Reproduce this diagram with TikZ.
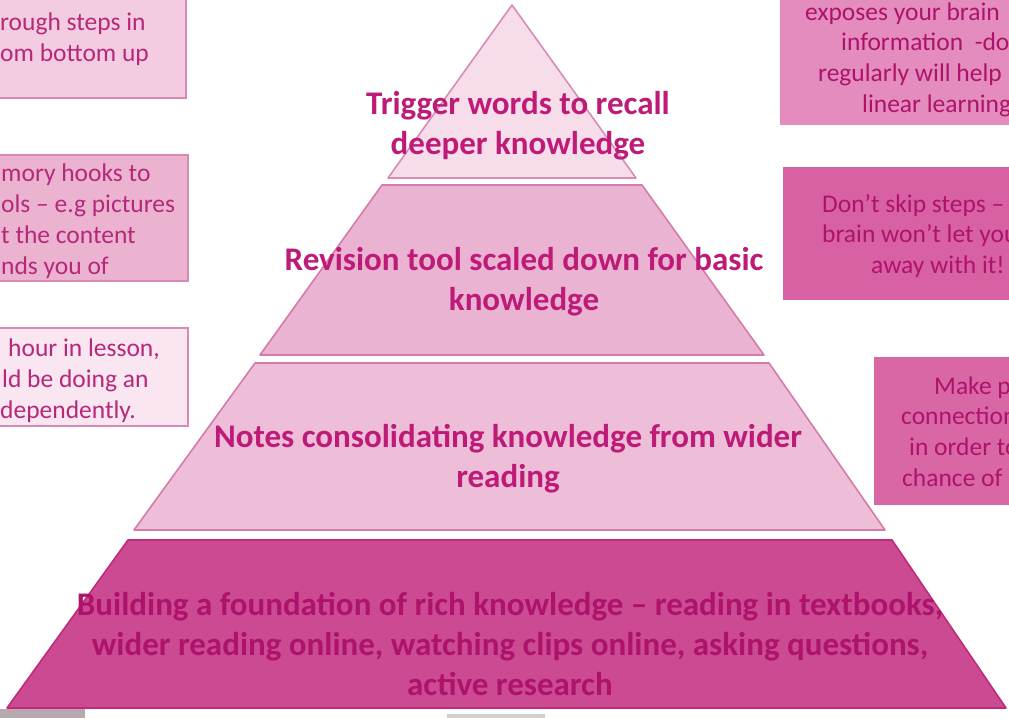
\documentclass[tikz,border=0pt]{standalone}
\usepackage{fontspec}
\setmainfont{Carlito}
\definecolor{tritop}{HTML}{F7DCEA}
\definecolor{triedge}{HTML}{D98CB8}
\definecolor{laytwo}{HTML}{EBB3D2}
\definecolor{laythree}{HTML}{EEBDD8}
\definecolor{layedge}{HTML}{D47BAC}
\definecolor{layfour}{HTML}{CB4A92}
\definecolor{fouredge}{HTML}{BE2A7C}
\definecolor{pyrtext}{HTML}{BE1A78}
\definecolor{fourtext}{HTML}{AE136C}
\definecolor{lboxa}{HTML}{F3CCE1}
\definecolor{lboxb}{HTML}{ECB3D1}
\definecolor{lboxc}{HTML}{F9E6F0}
\definecolor{ledge}{HTML}{D78AB4}
\definecolor{rboxa}{HTML}{E38CBD}
\definecolor{rboxb}{HTML}{D861A3}
\definecolor{rboxc}{HTML}{D967A6}
\definecolor{sidetext}{HTML}{B5287A}
\definecolor{graya}{HTML}{B8A8B0}
\definecolor{grayb}{HTML}{D4D0D2}
\begin{document}
\begin{tikzpicture}[x=1pt,y=-1pt,
  layer/.style={line width=1.6pt, line join=round},
  pyr/.style={font=\bfseries\fontsize{33}{40}\selectfont, text=pyrtext, inner sep=0pt, align=center},
  side/.style={font=\fontsize{25.5}{31}\selectfont, text=sidetext, inner sep=0pt, anchor=base west},
  sidedark/.style={side, text=fourtext}
]
\useasboundingbox (0,0) rectangle (1009,718);
\clip (0,0) rectangle (1009,718);
\fill[white] (0,0) rectangle (1009,718);

% left boxes
\draw[fill=lboxa, draw=ledge, line width=1.5pt] (-20,-20) rectangle (186,98);
\draw[fill=lboxb, draw=ledge, line width=1.5pt] (-20,155) rectangle (188,281);
\draw[fill=lboxc, draw=ledge, line width=1.5pt] (-20,328) rectangle (188,426);
% right boxes
\fill[rboxa] (780,-20) rectangle (1030,125);
\fill[rboxb] (783,167) rectangle (1030,300);
\fill[rboxc] (874,357) rectangle (1030,505);

% pyramid layers
\draw[layer, fill=tritop, draw=triedge] (512,5) -- (636,178) -- (388,178) -- cycle;
\draw[layer, fill=laytwo, draw=layedge] (382,185) -- (642,185) -- (764,355) -- (260,355) -- cycle;
\draw[layer, fill=laythree, draw=layedge] (255,363) -- (769,363) -- (885,530) -- (134,530) -- cycle;
\draw[layer, fill=layfour, draw=fouredge] (128,540) -- (892,540) -- (1006,708) -- (7,708) -- cycle;

% bottom artefacts
\fill[graya] (0,709) rectangle (85,718);
\fill[grayb] (447,714) rectangle (545,718);

% pyramid text
\node[pyr] (ta) at (518,126) {Trigger words to recall\\deeper knowledge};
\node[pyr] (tb) at (524,282) {Revision tool scaled down for basic\\knowledge};
\node[pyr] (tc) at (508,459) {Notes consolidating knowledge from wider\\reading};
\node[pyr, text=fourtext] (td) at (510,644) {Building a foundation of rich knowledge -- reading in textbooks,\\wider reading online, watching clips online, asking questions,\\active research};

% left box text
\node[side] (la1) at (0,30) {rough steps in};
\node[side] (la2) at (0,61) {om bottom up};
\node[side] (lb1) at (1,181) {mory hooks to};
\node[side] (lb2) at (1,212) {ols -- e.g pictures};
\node[side] (lb3) at (1,243) {t the content};
\node[side] (lb4) at (1,274) {nds you of};
\node[side] (lc1) at (8,356) {hour in lesson,};
\node[side] (lc2) at (2,387) {ld be doing an};
\node[side] (lc3) at (0,418) {dependently.};

% right box text
\node[sidedark] (ra1) at (805,20) {exposes your brain};
\node[sidedark] (ra2) at (841,50) {information\ \ -do};
\node[sidedark] (ra3) at (818,81) {regularly will help};
\node[sidedark] (ra4) at (862,112) {linear learning};
\node[sidedark] (rb1) at (822,212) {Don’t skip steps --};
\node[sidedark] (rb2) at (822,242) {brain won’t let you};
\node[sidedark] (rb3) at (871,273) {away with it!};
\node[sidedark] (rc1) at (934,394) {Make p};
\node[sidedark] (rc2) at (901,424) {connection};
\node[sidedark] (rc3) at (909,455) {in order to};
\node[sidedark] (rc4) at (902,486) {chance of};
\end{tikzpicture}
\end{document}
